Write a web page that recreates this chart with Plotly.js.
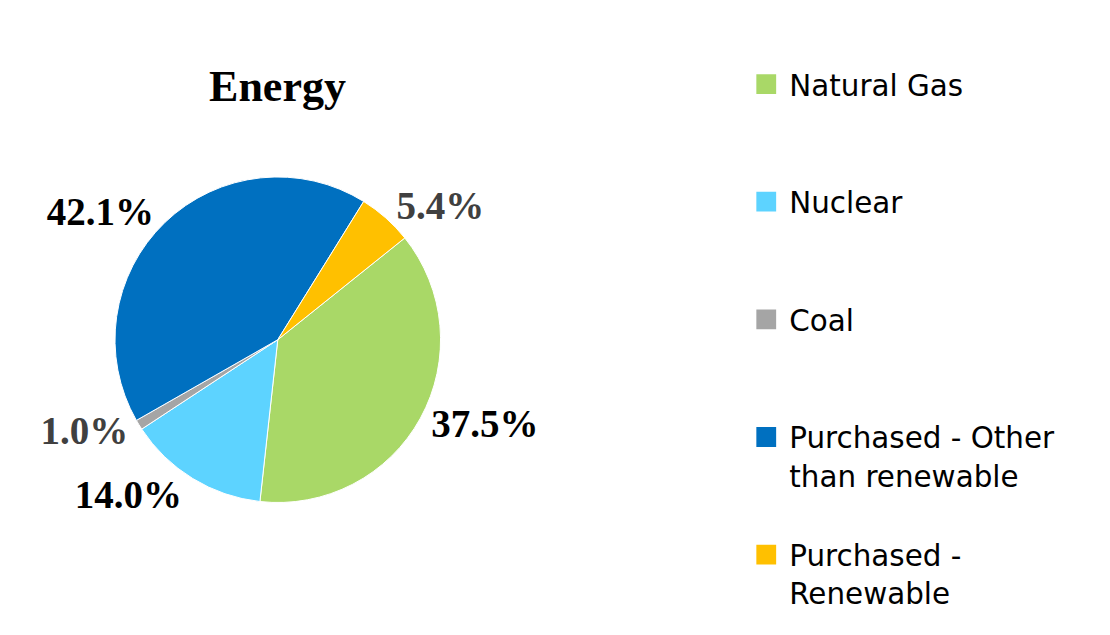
<!DOCTYPE html>
<html>
<head>
<meta charset="utf-8">
<script src="https://cdn.plot.ly/plotly-3.0.1.min.js"></script>
<style>
html,body{margin:0;padding:0;background:#fff;}
#chart{width:1110px;height:635px;}
#chart .legend path.legendpie{transform:translate(17px,0px) scale(1.8);}
</style>
</head>
<body>
<div id="chart"></div>
<script>
// Data
const categories = ["Natural Gas", "Nuclear", "Coal", "Purchased - Other than renewable", "Purchased - Renewable"];
const legendLabels = ["Natural Gas", "Nuclear", "Coal", "Purchased - Other<br>than renewable", "Purchased -<br>Renewable"];
const shares = [37.5, 14.0, 1.0, 42.1, 5.4];
const sliceColors = ["#A9D867", "#5DD3FF", "#A5A5A5", "#0070C0", "#FFC000"];
const labelColors = ["#000000", "#000000", "#404040", "#000000", "#404040"];

// pad each legend entry (except the last) to three lines so entries are evenly spaced
const padded = legendLabels.map(function (l, idx) {
  if (idx === legendLabels.length - 1) return l;
  const n = l.split("<br>").length;
  let s = l;
  for (let i = n; i < 3; i++) s += "<br> ";
  return s;
});

const trace = {
  type: "pie",
  labels: padded,
  values: shares,
  sort: false,
  direction: "clockwise",
  rotation: 51.3,
  marker: { colors: sliceColors, line: { color: "#ffffff", width: 1 } },
  texttemplate: "%{percent:.1%}",
  textposition: "outside",
  textfont: { family: "Liberation Serif", size: 39, color: labelColors, weight: "bold" },
  outsidetextfont: { family: "Liberation Serif", size: 39, color: labelColors, weight: "bold" },
  hovertemplate: "%{customdata}: %{percent:.1%}<extra></extra>",
  customdata: categories,
  domain: { x: [0.1036, 0.3969], y: [0.15, 0.78] }
};

const layout = {
  width: 1110,
  height: 635,
  margin: { l: 0, r: 0, t: 0, b: 0 },
  paper_bgcolor: "#ffffff",
  title: {
    text: "<b>Energy</b>",
    font: { family: "Liberation Serif", size: 44, color: "#000000" },
    x: 0.25, xanchor: "center", xref: "paper",
    y: 0.865, yanchor: "middle", yref: "paper"
  },
  showlegend: true,
  legend: {
    x: 0.675, xanchor: "left",
    y: 0.908, yanchor: "top",
    valign: "top",
    font: { family: "DejaVu Sans", size: 29.4, color: "#000000" },
    bgcolor: "rgba(0,0,0,0)"
  }
};

Plotly.newPlot("chart", [trace], layout, { displayModeBar: false, staticPlot: true });
</script>
</body>
</html>
